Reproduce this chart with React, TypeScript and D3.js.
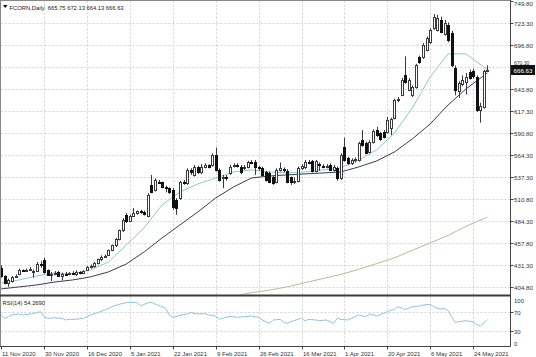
import React from 'react';
import * as d3 from 'd3';

// ---- data ----
const title = 'FCORN,Daily  665.75 672.13 664.13 666.63';
const rsiTitle = 'RSI(14) 54.2690';

const dateLabels = ['11 Nov 2020', '30 Nov 2020', '16 Dec 2020', '5 Jan 2021', '22 Jan 2021', '9 Feb 2021', '26 Feb 2021', '16 Mar 2021', '1 Apr 2021', '20 Apr 2021', '6 May 2021', '24 May 2021'];
const dateBars = [0, 12, 24, 36, 48, 60, 72, 84, 96, 108, 120, 132];

const priceTicks = [749.8, 723.3, 696.8, 670.3, 643.8, 617.3, 590.8, 564.3, 537.3, 510.8, 484.3, 457.8, 431.3, 404.8];
const priceTickLabels = ['749.80', '723.30', '696.80', '670.30', '643.80', '617.30', '590.80', '564.30', '537.30', '510.80', '484.30', '457.80', '431.30', '404.80'];
const lastPrice = 666.63;
const rsiTicks = [100, 70, 30, 0];
const rsiLevels = [70, 30];

const opens = [428, 418, 410, 412, 417, 420, 425, 424, 425, 423, 424, 433, 437, 425, 419, 421, 423, 418, 421, 420,
  422, 421, 423, 422, 425, 429, 430, 434, 438, 441, 443, 449, 455, 463, 473, 492, 484, 491, 494, 496,
  495, 490, 528, 522, 532, 531, 525, 524, 522, 510, 512, 531, 530, 546, 540, 549, 543, 550, 552, 552,
  564, 546, 536, 537, 542, 551, 552, 550, 548, 550, 556, 556, 549, 548, 543, 542, 537, 532, 546, 547,
  545, 537, 531, 533, 548, 549, 556, 557, 545, 553, 551, 550, 552, 546, 548, 536, 574, 560, 554, 558,
  558, 582, 578, 568, 580, 594, 590, 592, 592, 596, 609, 630, 637, 660, 643, 637, 646, 682, 682, 691,
  700, 717, 715, 727, 710, 721, 711, 669, 641, 650, 652, 664, 665, 658, 618, 622, 665.75];
const highs = [431, 419, 415, 418, 420, 427, 426, 427, 429, 426, 435, 436, 440, 426, 423, 424, 424, 422, 423, 423,
  424, 425, 424, 425, 430, 432, 435, 439, 443, 444, 450, 456, 464, 474, 488, 494, 492, 500, 497, 498,
  497, 518, 540, 536, 534, 532, 527, 525, 524, 512, 533, 534, 548, 548, 552, 551, 553, 554, 553, 566,
  573, 548, 540, 540, 552, 554, 554, 552, 552, 557, 558, 558, 551, 550, 545, 544, 539, 548, 555, 549,
  547, 538, 537, 550, 553, 558, 558, 558, 558, 555, 553, 553, 554, 552, 550, 566, 585, 562, 560, 561,
  580, 594, 580, 582, 595, 598, 592, 594, 610, 609, 632, 634, 657, 683, 657, 648, 674, 684, 699, 707,
  717, 734, 733, 731, 727, 724, 714, 672, 653, 660, 663, 667, 668, 660, 627, 667, 672.13];
const lows = [416, 408, 405, 410, 416, 419, 423, 423, 424, 416, 423, 428, 421, 418, 412, 419, 417, 413, 418, 419,
  420, 418, 420, 421, 424, 427, 428, 432, 436, 440, 442, 448, 453, 461, 471, 482, 483, 490, 492, 493,
  491, 489, 518, 520, 529, 524, 519, 517, 498, 492, 510, 528, 528, 540, 538, 541, 541, 548, 548, 550,
  544, 532, 524, 533, 540, 549, 549, 541, 546, 548, 553, 540, 545, 538, 532, 530, 528, 530, 544, 543,
  530, 528, 529, 531, 546, 547, 553, 543, 543, 545, 548, 548, 545, 544, 533, 534, 556, 552, 552, 555,
  556, 574, 565, 566, 578, 586, 581, 584, 590, 588, 607, 628, 635, 650, 641, 634, 644, 674, 680, 689,
  698, 715, 713, 711, 708, 700, 670, 636, 633, 647, 637, 655, 656, 616, 603, 620, 664.13];
const closes = [418, 410, 413, 417, 418, 425, 424, 425, 426, 424, 433, 431, 423, 419, 421, 422, 418, 421, 420, 422,
  421, 423, 422, 424, 429, 430, 434, 438, 441, 442, 449, 455, 463, 473, 486, 484, 491, 494, 496, 495,
  493, 516, 520, 534, 531, 526, 524, 519, 501, 500, 531, 530, 546, 543, 550, 543, 550, 552, 550, 564,
  546, 534, 538, 536, 550, 552, 551, 543, 549, 556, 555, 549, 548, 540, 534, 532, 530, 546, 548, 546,
  532, 532, 533, 548, 551, 556, 555, 545, 557, 552, 550, 551, 546, 550, 536, 564, 558, 554, 558, 559,
  578, 576, 567, 580, 593, 588, 583, 586, 606, 607, 630, 632, 655, 652, 655, 646, 672, 676, 697, 705,
  715, 730, 729, 713, 723, 703, 673, 642, 651, 655, 658, 657, 659, 618, 623, 665, 666.63];

const maBars = [0, 5, 10, 15, 20, 25, 30, 35, 40, 45, 50, 55, 60, 65, 70, 75, 80, 85, 90, 95, 100, 105, 110, 115, 120, 125, 130, 136];
const maFast = [409.7, 413.3, 418.2, 421.8, 420.6, 425.4, 435.0, 455.5, 476.1, 503.8, 519.4, 529.1, 536.3, 543.6, 546.0, 543.6, 542.4, 543.6, 546.0, 548.4, 558.0, 570.1, 590.6, 620.8, 658.1, 686.0, 686.0, 667.0];
const maSlow = [402.5, 404.9, 407.3, 410.9, 413.3, 417.0, 423.0, 432.6, 447.1, 464.0, 479.7, 495.3, 512.2, 525.5, 536.3, 538.7, 540.0, 541.2, 542.4, 543.6, 549.6, 556.8, 567.7, 583.4, 601.5, 624.4, 643.7, 663.0];
const maLongBars = [64, 70, 75, 80, 85, 90, 95, 100, 105, 110, 115, 120, 125, 130, 136];
const maLong = [393, 398, 401, 405, 410, 415, 420, 426, 433, 440, 449, 458, 467, 478, 489];

const rsiBars = [0, 1, 2, 3, 5, 6, 8, 9, 10, 11, 12, 13, 15, 17, 18, 19, 21, 23, 25, 27, 29, 31, 33, 35, 36, 38, 39, 41, 42, 43, 45, 46, 47, 48, 50, 52, 53, 55, 57, 58, 60, 61, 62, 64, 66, 68, 70, 72, 73, 74, 75, 76, 78, 79, 80, 81, 83, 84, 85, 86, 88, 89, 91, 92, 93, 94, 95, 97, 99, 100, 102, 103, 105, 107, 108, 110, 111, 113, 114, 115, 117, 118, 120, 121, 122, 123, 124, 125, 126, 127, 128, 130, 131, 132, 133, 134, 135, 136];
const rsiVals = [63, 56.5, 59.8, 63.3, 65.3, 63.3, 65.3, 66.7, 68, 70, 59.8, 56.5, 57.5, 56.5, 53, 54.5, 54.5, 56.5, 63.3, 68, 73.5, 80.2, 85.1, 88.4, 89.2, 88.4, 82, 88, 89, 86, 80, 77, 63, 58.6, 62.7, 65.3, 68, 65.3, 66, 63.3, 61, 55, 56.5, 60.5, 58.6, 59.8, 61.2, 58.6, 53, 49.6, 46.3, 53, 54.4, 49, 46.3, 49.6, 54.4, 56.5, 51.7, 54.4, 53.1, 51.7, 53.1, 49.6, 46.3, 56.5, 54.4, 53.1, 59.8, 63.3, 59.8, 65.3, 61.2, 66.7, 70, 75.5, 80.2, 74.8, 76.9, 80.2, 81.6, 83.7, 85.1, 80, 76.9, 75.5, 76.9, 72, 60, 48.3, 49.6, 51.7, 50.5, 49, 44, 41, 47, 54.27];

// ---- layout ----
const W = 536, H = 357;
const plotL = 0.5, plotR = 510.5;
const mainT = 0.5, mainB = 294.5;
const rsiT = 296.5, rsiB = 346.5;
const FONT = '"Liberation Sans", Arial, sans-serif';

export default function App() {
  const x = d3.scaleLinear().domain([0, 136]).range([1.2, 1.2 + 136 * 3.575]);
  const y = d3.scaleLinear().domain([404.8, 749.8]).range([287, 1]);
  const yr = d3.scaleLinear().domain([0, 100]).range([346, 297]);
  const px = (i: number) => Math.round(x(i)) + 0.5;

  const lineMain = (bars: number[], vals: number[]) =>
    d3.line<number>().x((_, k) => x(bars[k])).y((v) => y(v))(vals) || '';
  const rsiPath = d3.line<number>().x((_, k) => x(rsiBars[k])).y((v) => yr(v))(rsiVals) || '';

  const grid = '#d2d2d2';
  const axisCol = '#444';
  const tagY = Math.round(y(lastPrice));

  return (
    <svg width={W} height={H} style={{ position: 'absolute', left: 0, top: 0, background: '#fff' }} fontFamily={FONT}>
      <defs>
        <clipPath id="mainClip"><rect x={0} y={0} width={plotR} height={mainB} /></clipPath>
        <clipPath id="rsiClip"><rect x={0} y={rsiT} width={plotR} height={rsiB - rsiT} /></clipPath>
      </defs>
      <rect x={0} y={0} width={W} height={H} fill="#fff" />

      {/* grid */}
      <g stroke={grid} strokeWidth={1} strokeDasharray="2,2">
        {priceTicks.slice(1).map((p, k) => (
          <line key={'hg' + k} x1={plotL} x2={plotR} y1={Math.round(y(p)) + 0.5} y2={Math.round(y(p)) + 0.5} />
        ))}
        {dateBars.slice(1).map((b, k) => (
          <line key={'vg' + k} x1={px(b)} x2={px(b)} y1={mainT} y2={mainB} />
        ))}
        {dateBars.slice(1).map((b, k) => (
          <line key={'vgr' + k} x1={px(b)} x2={px(b)} y1={rsiT} y2={rsiB} />
        ))}
        {rsiLevels.map((v, k) => (
          <line key={'rl' + k} x1={plotL} x2={plotR} y1={Math.round(yr(v)) + 0.5} y2={Math.round(yr(v)) + 0.5} />
        ))}
      </g>

      {/* moving averages */}
      <g clipPath="url(#mainClip)" fill="none">
        <path d={lineMain(maLongBars, maLong)} stroke="#c9b48e" strokeWidth={1} />
        <path d={lineMain(maBars, maSlow)} stroke="#3a3d52" strokeWidth={1} />
        <path d={lineMain(maBars, maFast)} stroke="#8ccbbd" strokeWidth={1} />
      </g>

      {/* candles */}
      <g clipPath="url(#mainClip)">
        {closes.map((c, i) => {
          const o = opens[i];
          const cx = px(i);
          const top = Math.round(y(Math.max(o, c)));
          const bot = Math.round(y(Math.min(o, c)));
          const bull = c >= o;
          return (
            <g key={i}>
              <line x1={cx} x2={cx} y1={y(highs[i])} y2={y(lows[i])} stroke="#3a3a3a" strokeWidth={1} />
              <rect x={cx - 1} y={top + 0.5} width={2} height={Math.max(bot - top, 1)}
                fill={bull ? '#fff' : '#111'} stroke={bull ? '#3a3a3a' : '#111'} strokeWidth={1} />
            </g>
          );
        })}
      </g>

      {/* RSI line */}
      <g clipPath="url(#rsiClip)">
        <path d={rsiPath} fill="none" stroke="#8fc4dc" strokeWidth={1} />
      </g>

      {/* frames */}
      <g fill="none" stroke={axisCol}>
        <line x1={plotL} x2={plotR} y1={mainT} y2={mainT} stroke="#888" />
        <line x1={plotL} x2={plotL} y1={0} y2={rsiB} stroke="#888" />
        <line x1={plotR} x2={plotR} y1={0} y2={rsiB} />
        <line x1={0} x2={plotR} y1={295.5} y2={295.5} strokeWidth={2} stroke="#3c3c3c" />
        <line x1={0} x2={plotR} y1={rsiB} y2={rsiB} />
      </g>

      {/* price axis */}
      <g fontSize={6.2} fill="#333">
        {priceTicks.map((p, k) => {
          const yy = Math.round(y(p)) + 0.5;
          const hidden = Math.abs(yy - tagY) < 6;
          return (
            <g key={'pt' + k}>
              <line x1={plotR} x2={plotR + 3} y1={yy} y2={yy} stroke={axisCol} />
              <text x={514} y={hidden ? tagY - 7.5 : Math.max(yy, 3.5)} dominantBaseline="central" fontSize={hidden ? 5 : 6.2}>{priceTickLabels[k]}</text>
            </g>
          );
        })}
      </g>
      <g>
        <rect x={511} y={tagY - 5} width={24} height={10} fill="#111" />
        <text x={513.5} y={tagY} fontSize={6.2} fill="#fff" dominantBaseline="central">{lastPrice.toFixed(2)}</text>
      </g>

      {/* rsi axis */}
      <g fontSize={6} fill="#333">
        {rsiTicks.map((v, k) => {
          const yy = Math.round(yr(v)) + 0.5;
          const ty = v === 100 ? yy + 3.5 : v === 0 ? yy - 3 : yy;
          return (
            <g key={'rt' + k}>
              {v !== 100 && v !== 0 && <line x1={plotR} x2={plotR + 3} y1={yy} y2={yy} stroke={axisCol} />}
              <text x={514} y={ty} dominantBaseline="central">{v}</text>
            </g>
          );
        })}
      </g>

      {/* date axis */}
      <g fontSize={6} fill="#333">
        {dateBars.map((b, k) => (
          <g key={'dt' + k}>
            <line x1={px(b)} x2={px(b)} y1={rsiB} y2={rsiB + 3} stroke={axisCol} />
            <text x={px(b) + 0.5} y={355.5}>{dateLabels[k]}</text>
          </g>
        ))}
      </g>

      {/* titles */}
      <path d="M3,5 L7.5,5 L5.25,8 Z" fill="#111" />
      <text x={9.5} y={9.5} fontSize={5.8} fill="#222" xmlSpace="preserve">{title}</text>
      <text x={2.5} y={304.5} fontSize={5.8} fill="#222">{rsiTitle}</text>
    </svg>
  );
}
